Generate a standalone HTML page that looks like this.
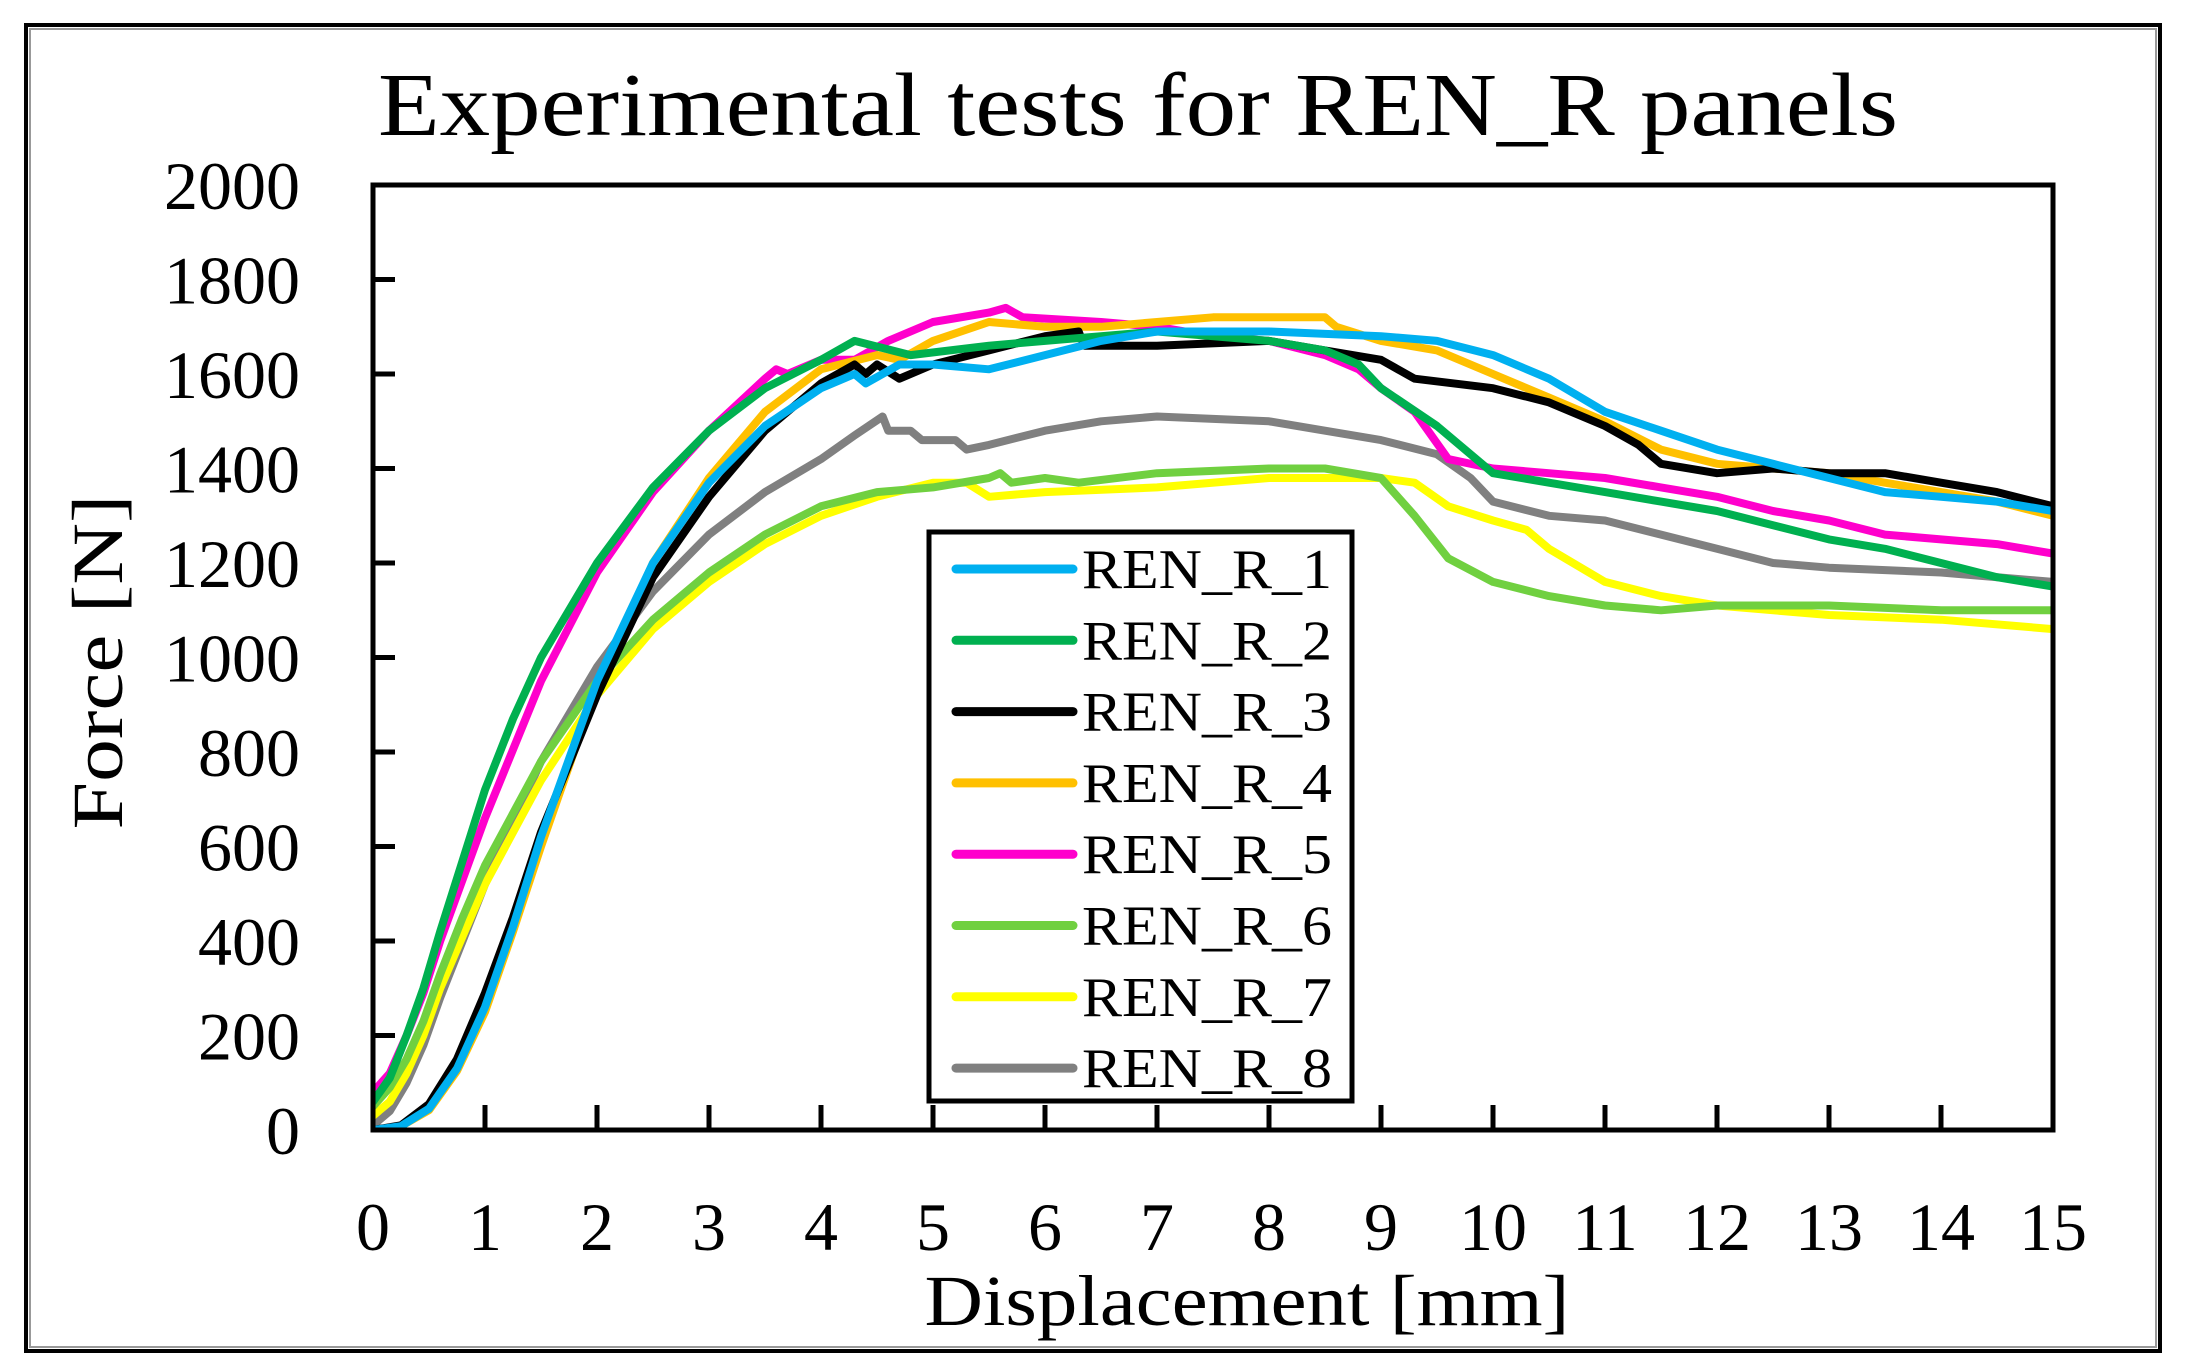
<!DOCTYPE html>
<html><head><meta charset="utf-8"><style>
html,body{margin:0;padding:0;background:#fff;}
svg{display:block;font-family:"Liberation Serif",serif;}
</style></head><body>
<svg id="chart" width="2186" height="1369" viewBox="0 0 2186 1369" xmlns="http://www.w3.org/2000/svg">
<rect x="0" y="0" width="2186" height="1369" fill="#fff"/>
<rect x="26" y="25" width="2134" height="1326" fill="none" stroke="#000" stroke-width="4"/>
<rect x="30" y="29" width="2126" height="1318" fill="none" stroke="#999" stroke-width="2"/>
<text x="1138" y="135" font-size="90" text-anchor="middle" textLength="1520" lengthAdjust="spacingAndGlyphs">Experimental tests for REN_R panels</text>
<clipPath id="plotclip"><rect x="373" y="185" width="1680" height="945"/></clipPath>
<g id="series" clip-path="url(#plotclip)"></g>
<g id="axes"></g>
<text x="1247" y="1325" font-size="72" text-anchor="middle" textLength="645" lengthAdjust="spacingAndGlyphs">Displacement [mm]</text>
<text transform="translate(122,662) rotate(-90)" font-size="72" text-anchor="middle" textLength="335" lengthAdjust="spacingAndGlyphs">Force [N]</text>
<g id="legend"></g>
</svg>
<script>
const xTicks=[0,1,2,3,4,5,6,7,8,9,10,11,12,13,14,15];
const yTicks=[0,200,400,600,800,1000,1200,1400,1600,1800,2000];
const seriesNames=["REN_R_1","REN_R_2","REN_R_3","REN_R_4","REN_R_5","REN_R_6","REN_R_7","REN_R_8"];
const seriesColors=["#00b0f0","#00b050","#000000","#ffc000","#ff00cc","#70d040","#ffff00","#808080"];
const r1x=[0,0.25,0.5,0.75,1,1.25,1.5,2,2.5,3,3.5,4,4.3,4.4,4.7,5,5.5,6,6.5,7,8,9,9.5,10,10.5,11,11.5,12,12.5,13,13.5,14,14.5,15];
const r1y=[0,8,45,130,260,430,620,950,1200,1370,1490,1570,1600,1580,1620,1620,1610,1640,1670,1690,1690,1680,1670,1640,1590,1520,1480,1440,1410,1380,1350,1340,1330,1310];
const r2x=[0,0.15,0.3,0.45,0.6,0.8,1,1.25,1.5,2,2.5,3,3.5,4,4.3,4.8,5.5,6,6.5,7,8,8.5,8.8,9,9.5,10,10.5,11,11.5,12,12.5,13,13.5,14,14.5,15];
const r2y=[60,110,200,300,420,570,720,870,1000,1200,1360,1480,1570,1630,1670,1640,1660,1670,1680,1690,1670,1650,1620,1570,1490,1390,1370,1350,1330,1310,1280,1250,1230,1200,1170,1150];
const r3x=[0,0.25,0.5,0.75,1,1.25,1.5,2,2.5,3,3.5,4,4.3,4.4,4.5,4.7,5,5.5,6,6.3,6.35,7,8,8.5,9,9.3,10,10.5,11,11.3,11.5,12,12.5,13,13.5,14,14.5,15];
const r3y=[0,10,55,150,290,450,630,920,1170,1340,1480,1580,1620,1600,1620,1590,1620,1650,1680,1690,1660,1660,1670,1650,1630,1590,1570,1540,1490,1450,1410,1390,1400,1390,1390,1370,1350,1320];
const r4x=[0,0.25,0.5,0.75,1,1.25,1.5,2,2.5,3,3.5,4,4.5,4.7,5,5.5,6,6.5,7,7.5,8,8.5,8.6,9,9.5,10,10.5,11,11.5,12,12.5,13,13.5,14,14.5,15];
const r4y=[0,8,42,125,250,420,600,940,1200,1380,1520,1610,1640,1630,1670,1710,1700,1700,1710,1720,1720,1720,1700,1670,1650,1600,1550,1500,1440,1410,1400,1390,1370,1350,1330,1300];
const r5x=[0,0.15,0.3,0.45,0.6,0.8,1,1.5,2,2.5,3,3.5,3.6,3.7,4,4.3,4.6,5,5.5,5.65,5.8,6.5,7,7.5,8,8.5,8.8,9,9.3,9.6,10,10.5,11,11.5,12,12.5,13,13.5,14,14.5,15];
const r5y=[80,120,200,290,400,530,660,950,1180,1350,1480,1590,1610,1600,1630,1630,1670,1710,1730,1740,1720,1710,1700,1680,1670,1640,1610,1570,1520,1420,1400,1390,1380,1360,1340,1310,1290,1260,1250,1240,1220];
const r6x=[0,0.15,0.3,0.45,0.6,0.8,1,1.5,2,2.5,3,3.5,4,4.5,5,5.5,5.6,5.7,6,6.3,7,8,8.5,9,9.3,9.6,10,10.5,11,11.5,12,13,14,15];
const r6y=[50,90,150,230,330,450,560,780,950,1080,1180,1260,1320,1350,1360,1380,1390,1370,1380,1370,1390,1400,1400,1380,1300,1210,1160,1130,1110,1100,1110,1110,1100,1100];
const r7x=[0,0.15,0.3,0.45,0.6,0.8,1,1.5,2,2.5,3,3.5,4,4.5,5,5.3,5.5,6,7,8,9,9.3,9.6,10,10.3,10.5,11,11.5,12,13,14,15];
const r7y=[30,60,120,200,300,410,520,740,920,1060,1160,1240,1300,1340,1370,1370,1340,1350,1360,1380,1380,1370,1320,1290,1270,1230,1160,1130,1110,1090,1080,1060];
const r8x=[0,0.15,0.3,0.45,0.6,0.8,1,1.5,2,2.5,3,3.5,4,4.3,4.55,4.6,4.8,4.9,5.2,5.3,5.5,6,6.5,7,8,8.5,9,9.5,9.8,10,10.5,11,11.5,12,12.5,13,14,15];
const r8y=[10,40,100,180,280,400,520,780,980,1140,1260,1350,1420,1470,1510,1480,1480,1460,1460,1440,1450,1480,1500,1510,1500,1480,1460,1430,1380,1330,1300,1290,1260,1230,1200,1190,1180,1160];
const seriesX=[r1x,r2x,r3x,r4x,r5x,r6x,r7x,r8x];
const seriesY=[r1y,r2y,r3y,r4y,r5y,r6y,r7y,r8y];

const NS="http://www.w3.org/2000/svg";
const L=373,R=2053,T=185,B=1130;
function sx(v){return L+(v-0)/(15-0)*(R-L);}
function sy(v){return B-(v-0)/(2000-0)*(B-T);}
function mk(tag,attrs,parent){const e=document.createElementNS(NS,tag);for(const k in attrs)e.setAttribute(k,attrs[k]);parent.appendChild(e);return e;}

const series=document.getElementById('series');
for(let i=seriesNames.length-1;i>=0;i--){
  let d='';
  for(let j=0;j<seriesX[i].length;j++){d+=(j?'L':'M')+sx(seriesX[i][j]).toFixed(1)+','+sy(seriesY[i][j]).toFixed(1);}
  const p=mk('path',{d:d,fill:'none',stroke:seriesColors[i],'stroke-width':8,'stroke-linejoin':'round','stroke-linecap':'round'},series);
  
  
}

const axes=document.getElementById('axes');
const frame=mk('rect',{x:L,y:T,width:R-L,height:B-T,fill:'none',stroke:'#000','stroke-width':5},axes);


xTicks.forEach(v=>{
  const x=sx(v);
  const t=mk('line',{x1:x,y1:B,x2:x,y2:B-25,stroke:'#000','stroke-width':5},axes);
  
  
  const lb=mk('text',{x:x,y:1250,'font-size':68,'text-anchor':'middle'},axes);
  lb.textContent=String(v);
  
  
});
yTicks.forEach(v=>{
  const y=sy(v);
  const t=mk('line',{x1:L,y1:y,x2:L+22,y2:y,stroke:'#000','stroke-width':5},axes);
  
  
  const lb=mk('text',{x:300,y:y+24,'font-size':68,'text-anchor':'end'},axes);
  lb.textContent=String(v);
  
  
});

const legend=document.getElementById('legend');


mk('rect',{x:929,y:532,width:423,height:569,fill:'#fff',stroke:'#000','stroke-width':5},legend);
seriesNames.forEach((n,i)=>{
  const y=569+i*71.3;
  const g=mk('g',{},legend);
  
  
  mk('line',{x1:956,y1:y,x2:1073,y2:y,stroke:seriesColors[i],'stroke-width':9,'stroke-linecap':'round'},g);
  const tx=mk('text',{x:1082,y:y+19,'font-size':56,textLength:250,lengthAdjust:'spacingAndGlyphs'},g);
  tx.textContent=n;
});
</script>
</body></html>
